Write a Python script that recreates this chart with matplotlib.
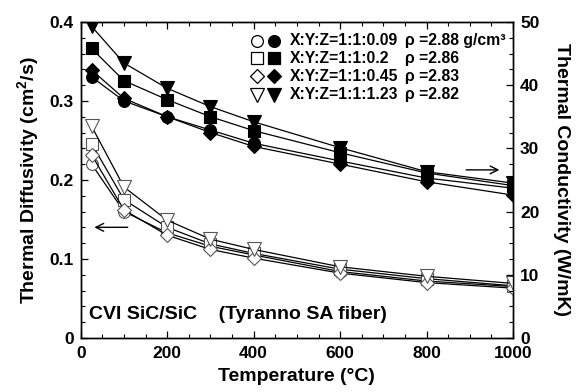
import matplotlib
matplotlib.use("Agg")
import matplotlib.pyplot as plt
from matplotlib.ticker import MultipleLocator

plt.rcParams['font.family'] = ['Liberation Sans', 'DejaVu Sans']
plt.rcParams['font.weight'] = 'bold'
plt.rcParams['mathtext.default'] = 'regular'

temps = [25, 100, 200, 300, 400, 600, 800, 1000]
labels = ["X:Y:Z=1:1:0.09", "X:Y:Z=1:1:0.2", "X:Y:Z=1:1:0.45", "X:Y:Z=1:1:1.23"]
densities = ["ρ =2.88 g/cm³", "ρ =2.86", "ρ =2.83", "ρ =2.82"]
markers = ['o', 's', 'D', 'v']
msizes = [8.5, 8.5, 7, 9.5]

diff_009 = [0.220, 0.160, 0.133, 0.116, 0.105, 0.084, 0.072, 0.065]
diff_02 = [0.246, 0.175, 0.140, 0.119, 0.107, 0.087, 0.075, 0.066]
diff_045 = [0.232, 0.162, 0.130, 0.112, 0.101, 0.082, 0.070, 0.063]
diff_123 = [0.268, 0.191, 0.149, 0.125, 0.112, 0.090, 0.078, 0.069]
diffusivity = [diff_009, diff_02, diff_045, diff_123]

cond_009 = [41.3, 37.5, 35.0, 32.9, 30.8, 28.0, 25.3, 23.7]
cond_02 = [45.8, 40.7, 37.7, 35.0, 32.8, 29.3, 26.1, 24.1]
cond_045 = [42.4, 37.9, 35.0, 32.5, 30.3, 27.5, 24.7, 22.6]
cond_123 = [49.3, 43.5, 39.5, 36.6, 34.2, 30.1, 26.3, 24.5]
conductivity = [cond_009, cond_02, cond_045, cond_123]

fig = plt.figure(figsize=(5.81, 3.92), dpi=100)
ax = fig.add_axes([0.139, 0.138, 0.744, 0.806])
ax2 = ax.twinx()

for d, m, ms in zip(diffusivity, markers, msizes):
    ax.plot(temps, d, color='black', lw=0.9, marker=m, ms=ms,
            mfc='white', mec='#555555', mew=0.8, zorder=3)
for c, m, ms in zip(conductivity, markers, msizes):
    ax2.plot(temps, c, color='black', lw=0.9, marker=m, ms=ms,
             mfc='black', mec='black', mew=0.8, zorder=3)

ax.set_xlim(0, 1000)
ax.set_ylim(0, 0.4)
ax2.set_ylim(0, 50)

ax.xaxis.set_major_locator(MultipleLocator(200))
ax.xaxis.set_minor_locator(MultipleLocator(50))
ax.yaxis.set_major_locator(MultipleLocator(0.1))
ax.yaxis.set_minor_locator(MultipleLocator(0.02))
ax2.yaxis.set_major_locator(MultipleLocator(10))
ax2.yaxis.set_minor_locator(MultipleLocator(2.5))

ax.tick_params(axis='x', which='both', direction='in', top=True, labelsize=12.5, pad=6)
ax.tick_params(axis='y', which='both', direction='in', right=False, labelsize=12.5, pad=5)
ax.tick_params(which='major', length=5, width=0.9)
ax.tick_params(which='minor', length=3, width=0.8)
ax2.tick_params(axis='y', which='both', direction='in', labelsize=12.5, pad=5)
ax2.tick_params(which='major', length=5, width=0.9)
ax2.tick_params(which='minor', length=3, width=0.8)

ax.yaxis.set_major_formatter(matplotlib.ticker.FuncFormatter(lambda v, p: '0' if v == 0 else f'{v:.1f}'))

for a in (ax, ax2):
    for s in a.spines.values():
        s.set_linewidth(1.0)

ax.set_xlabel('Temperature (°C)', fontsize=14, fontweight='bold', labelpad=5)
ax.set_ylabel('Thermal Diffusivity (cm$^2$/s)', fontsize=14, fontweight='bold', labelpad=6)
ax2.set_ylabel('Thermal Conductivity (W/mK)', fontsize=14, fontweight='bold', rotation=270, labelpad=22)

# legend built manually
rows_y = [0.376, 0.354, 0.331, 0.308]
for i, (m, ms, lab, den) in enumerate(zip(markers, msizes, labels, densities)):
    y = rows_y[i]
    ax.plot([408], [y], marker=m, ms=ms, mfc='white', mec='black', mew=0.9, clip_on=False)
    ax.plot([448], [y], marker=m, ms=ms, mfc='black', mec='black', mew=0.9, clip_on=False)
    ax.text(483, y, lab, fontsize=11.3, fontweight='bold', va='center', ha='left')
    ax.text(749, y, den, fontsize=11.3, fontweight='bold', va='center', ha='left')

ax.text(20, 0.030, 'CVI SiC/SiC    (Tyranno SA fiber)', fontsize=14, fontweight='bold',
        ha='left', va='center')

ax.annotate('', xy=(25, 0.140), xytext=(115, 0.140),
            arrowprops=dict(arrowstyle='->', lw=1.0, color='black', mutation_scale=14))
ax.annotate('', xy=(975, 0.2127), xytext=(885, 0.2127),
            arrowprops=dict(arrowstyle='->', lw=1.0, color='black', mutation_scale=14))

fig.savefig('out.png', dpi=100)
